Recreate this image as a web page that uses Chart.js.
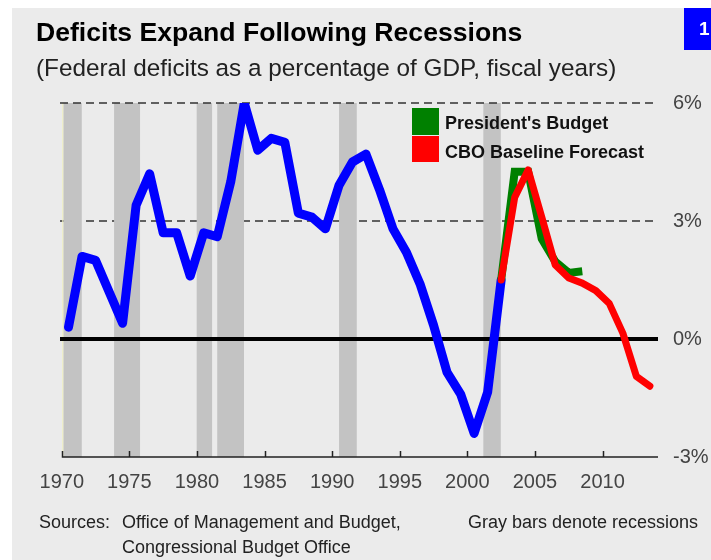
<!DOCTYPE html>
<html lang="en">
  <head>
    <meta charset="UTF-8" />
    <title>Deficits Expand Following Recessions</title>
    <script src="https://cdn.jsdelivr.net/npm/chart.js@4.4.1/dist/chart.umd.min.js"></script>
    <style>
      body {
        margin: 0;
        width: 711px;
        height: 560px;
        overflow: hidden;
        background: #fff;
        position: relative;
        font-family: "Liberation Sans", Arial, sans-serif;
      }
      #panel {
        position: absolute;
        left: 12px;
        top: 8px;
        width: 699px;
        height: 552px;
        background: #ebebeb;
      }
      #chart {
        position: absolute;
        left: 0;
        top: 0;
      }
      .txt {
        position: absolute;
        margin: 0;
        white-space: nowrap;
        line-height: 1;
      }
      .swatch {
        position: absolute;
        left: 412px;
        width: 27px;
      }
      #badge {
        position: absolute;
        left: 684px;
        top: 8px;
        width: 40px;
        height: 42px;
        background: #0000ff;
      }
    </style>
  </head>
  <body>
    <div id="panel"></div>
    <div id="badge"></div>
    <canvas id="chart" width="711" height="560"></canvas>

    <h1 class="txt" style="left:36px; top:19px; font-size:26.6px; font-weight:bold; color:#000">Deficits Expand Following Recessions</h1>
    <p class="txt" style="left:36px; top:56px; font-size:24.3px; color:#222">(Federal deficits as a percentage of GDP, fiscal years)</p>
    <span class="txt" style="left:699px; top:19px; font-size:19px; font-weight:bold; color:#fff">1</span>

    <!-- legend -->
    <div class="swatch" style="top:108px; height:27px; background:#008000"></div>
    <div class="swatch" style="top:136px; height:26px; background:#ff0000"></div>
    <span class="txt" style="left:445px; top:114px; font-size:18px; font-weight:bold; color:#111">President's Budget</span>
    <span class="txt" style="left:445px; top:143px; font-size:18px; font-weight:bold; color:#111">CBO Baseline Forecast</span>

    <!-- footer -->
    <span class="txt" style="left:39px; top:513px; font-size:18px; color:#222">Sources:</span>
    <span class="txt" style="left:122px; top:513px; font-size:18px; color:#222">Office of Management and Budget,</span>
    <span class="txt" style="left:122px; top:538px; font-size:18px; color:#222">Congressional Budget Office</span>
    <span class="txt" style="left:468px; top:513px; font-size:18px; color:#222">Gray bars denote recessions</span>

    <script>
      // actual deficits, % of GDP
      const actualYears = [1970, 1971, 1972, 1973, 1974, 1975, 1976, 1977, 1978, 1979, 1980, 1981, 1982, 1983, 1984, 1985, 1986, 1987, 1988, 1989, 1990, 1991, 1992, 1993, 1994, 1995, 1996, 1997, 1998, 1999, 2000, 2001, 2002];
      const actualDeficit = [0.3, 2.1, 2.0, 1.2, 0.4, 3.4, 4.2, 2.7, 2.7, 1.6, 2.7, 2.6, 4.0, 6.0, 4.8, 5.1, 5.0, 3.2, 3.1, 2.8, 3.9, 4.5, 4.7, 3.8, 2.8, 2.2, 1.4, 0.35, -0.85, -1.4, -2.4, -1.35, 1.5];

      // President's budget
      const budgetYears = [2002, 2003, 2004, 2005, 2006, 2007, 2008];
      const budgetDeficit = [1.5, 4.25, 4.25, 2.55, 1.97, 1.68, 1.72];

      // CBO baseline forecast
      const cboYears = [2002, 2003, 2004, 2005, 2006, 2007, 2008, 2009, 2010, 2011, 2012, 2013];
      const cboDeficit = [1.5, 3.6, 4.3, 3.1, 1.88, 1.55, 1.42, 1.23, 0.9, 0.15, -0.95, -1.2];

      // recessions (gray bars), in years
      const recessionStart = [1970.12, 1973.87, 1979.98, 1981.5, 1990.51, 2001.18];
      const recessionEnd = [1971.48, 1975.79, 1981.12, 1983.48, 1991.82, 2002.47];

      const xTicks = [1970, 1975, 1980, 1985, 1990, 1995, 2000, 2005, 2010];
      const yTicks = [-3, 0, 3, 6];

      // fiscal year values sit at mid-year
      const midYear = 0.5;
      const toPoints = (years, vals) => years.map((yr, i) => ({ x: yr + midYear, y: vals[i] }));

      // bars, reference lines and tick marks behind the lines
      const backdrop = {
        id: "backdrop",
        beforeDatasetsDraw(chart) {
          const { ctx, chartArea: a, scales } = chart;
          const x = scales.x;
          const y = scales.y;
          ctx.save();

          function dashed(val) {
            const py = y.getPixelForValue(val);
            ctx.setLineDash([8, 5]);
            ctx.strokeStyle = "#333";
            ctx.lineWidth = 1.5;
            ctx.beginPath();
            ctx.moveTo(a.left, py);
            ctx.lineTo(a.right - 3, py);
            ctx.stroke();
            ctx.setLineDash([]);
          }

          dashed(3);

          ctx.fillStyle = "#c3c3c3";
          recessionStart.forEach((s, i) => {
            const x0 = x.getPixelForValue(s);
            const x1 = x.getPixelForValue(recessionEnd[i]);
            ctx.fillRect(x0, a.top, x1 - x0, a.bottom - a.top);
          });

          // thin pale line at the left edge
          const x70 = x.getPixelForValue(xTicks[0]);
          ctx.strokeStyle = "#efefc0";
          ctx.lineWidth = 1;
          ctx.beginPath();
          ctx.moveTo(x70 + 1, a.top);
          ctx.lineTo(x70 + 1, a.bottom);
          ctx.stroke();

          dashed(6);

          // zero line
          const y0 = y.getPixelForValue(0);
          ctx.strokeStyle = "#000";
          ctx.lineWidth = 4;
          ctx.beginPath();
          ctx.moveTo(a.left, y0);
          ctx.lineTo(a.right, y0);
          ctx.stroke();

          // bottom axis and upward tick marks
          ctx.strokeStyle = "#222";
          ctx.lineWidth = 1.5;
          ctx.beginPath();
          ctx.moveTo(x70, a.bottom);
          ctx.lineTo(a.right, a.bottom);
          xTicks.forEach((t) => {
            const px = Math.round(x.getPixelForValue(t)) + 0.5;
            ctx.moveTo(px, a.bottom);
            ctx.lineTo(px, a.bottom - 6);
          });
          ctx.stroke();

          ctx.restore();
        },
      };

      const tickFont = { family: "'Liberation Sans', Arial, sans-serif", size: 20 };

      new Chart(document.getElementById("chart"), {
        type: "line",
        data: {
          datasets: [
            {
              label: "CBO Baseline Forecast",
              data: toPoints(cboYears, cboDeficit),
              borderColor: "#ff0000",
              borderWidth: 7,
              borderCapStyle: "round",
              borderJoinStyle: "round",
              order: 1,
            },
            {
              label: "President's Budget",
              data: toPoints(budgetYears, budgetDeficit),
              borderColor: "#008000",
              borderWidth: 8,
              borderJoinStyle: "miter",
              order: 2,
            },
            {
              label: "Actual",
              data: toPoints(actualYears, actualDeficit),
              borderColor: "#0000ff",
              borderWidth: 9,
              borderCapStyle: "round",
              borderJoinStyle: "round",
              order: 3,
            },
          ],
        },
        options: {
          responsive: false,
          animation: false,
          layout: { padding: { left: 60, top: 103, right: 0, bottom: 63 } },
          plugins: {
            legend: { display: false },
            tooltip: { enabled: false },
          },
          elements: { point: { radius: 0 }, line: { tension: 0 } },
          scales: {
            x: {
              type: "linear",
              min: 1969.87,
              max: 2014.1,
              afterBuildTicks: (s) => {
                s.ticks = xTicks.map((v) => ({ value: v }));
              },
              afterFit: (s) => {
                s.height = 40;
              },
              grid: { display: false },
              border: { display: false },
              ticks: {
                autoSkip: false,
                maxRotation: 0,
                padding: 5,
                color: "#444",
                font: tickFont,
                callback: (v) => String(v),
              },
            },
            y: {
              position: "right",
              min: -3,
              max: 6,
              afterBuildTicks: (s) => {
                s.ticks = yTicks.map((v) => ({ value: v }));
              },
              afterFit: (s) => {
                s.width = 53;
              },
              grid: { display: false, drawTicks: false },
              border: { display: false },
              ticks: {
                padding: 15,
                color: "#444",
                font: tickFont,
                callback: (v) => v + "%",
              },
            },
          },
        },
        plugins: [backdrop],
      });
    </script>
  </body>
</html>
